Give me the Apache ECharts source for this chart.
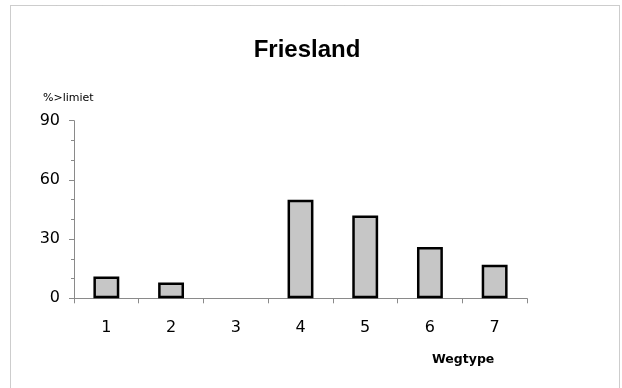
<!DOCTYPE html>
<html>
<head>
<meta charset="utf-8">
<script src="https://cdn.jsdelivr.net/npm/echarts@6/dist/echarts.min.js"></script>
<style>html,body{margin:0;padding:0;background:#fff;}#c{width:622px;height:388px;}</style>
</head>
<body>
<div id="c"></div>
<script>
const categories = ['1', '2', '3', '4', '5', '6', '7'];
const values = [11, 8, null, 50, 42, 26, 17];
const yTicks = [0, 30, 60, 90];
const titleText = 'Friesland';
const yName = '%>limiet';
const xName = 'Wegtype';

const chart = echarts.init(document.getElementById('c'), null, {renderer: 'canvas'});
chart.setOption({
  animation: false,
  backgroundColor: '#fff',
  title: {
    text: titleText, left: 302, top: 33, textAlign: 'center',
    textStyle: {fontFamily: 'Liberation Sans', fontWeight: 'bold', fontSize: 24, color: '#000'}
  },
  grid: {left: 74, right: 95, top: 120.7, bottom: 89.7, containLabel: false},
  xAxis: {
    type: 'category', data: categories, boundaryGap: true,
    axisLine: {lineStyle: {color: '#8a8a8a', width: 1}},
    axisTick: {show: true, interval: 0, length: 5, lineStyle: {color: '#8a8a8a'}},
    axisLabel: {margin: 22, fontFamily: 'DejaVu Sans', fontSize: 16, color: '#000'},
    splitLine: {show: false}
  },
  yAxis: {
    type: 'value', min: yTicks[0], max: yTicks[yTicks.length - 1], interval: 30,
    axisLine: {show: true, lineStyle: {color: '#8a8a8a', width: 1}},
    axisTick: {show: true, length: 5, lineStyle: {color: '#8a8a8a'}},
    minorTick: {show: true, splitNumber: 3, length: 3, lineStyle: {color: '#8a8a8a'}},
    axisLabel: {margin: 14, fontFamily: 'DejaVu Sans', fontSize: 16, color: '#000'},
    splitLine: {show: false}
  },
  graphic: [
    {type: 'rect', shape: {x: 10.5, y: 5.5, width: 609, height: 400}, silent: true,
     style: {fill: 'none', stroke: '#9a9a9a', lineWidth: 1, lineDash: [1, 1]}},
    {type: 'text', left: 43, top: 93, silent: true,
     style: {text: yName, font: '11px "DejaVu Sans"', fill: '#000'}},
    {type: 'text', left: 432, top: 353, silent: true,
     style: {text: xName, font: 'bold 12.5px "DejaVu Sans"', fill: '#000'}}
  ],
  series: [{
    type: 'bar', data: values, barWidth: '40%',
    itemStyle: {color: '#c6c6c6', borderColor: '#000', borderWidth: 2.5}
  }]
});
</script>
</body>
</html>
